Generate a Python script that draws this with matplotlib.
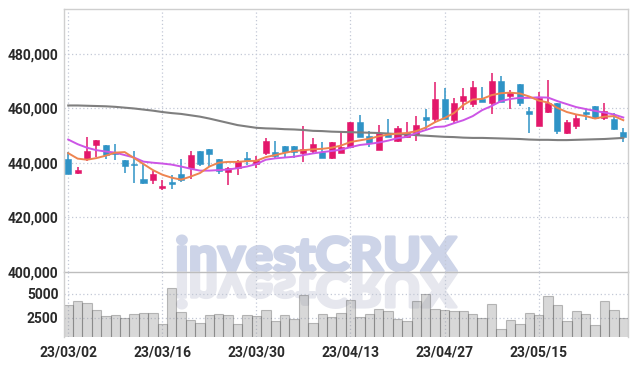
import matplotlib
matplotlib.use("Agg")
import matplotlib.pyplot as plt
import numpy as np
from matplotlib.textpath import TextPath
from matplotlib.patches import PathPatch, Rectangle
from matplotlib.font_manager import FontProperties
from matplotlib.transforms import Affine2D, IdentityTransform

# trading days (index -> date)
dates = ['23/03/02', '23/03/03', '23/03/06', '23/03/07', '23/03/08', '23/03/09', '23/03/10',
         '23/03/13', '23/03/14', '23/03/15', '23/03/16', '23/03/17', '23/03/20', '23/03/21',
         '23/03/22', '23/03/23', '23/03/24', '23/03/27', '23/03/28', '23/03/29', '23/03/30',
         '23/03/31', '23/04/03', '23/04/04', '23/04/05', '23/04/06', '23/04/07', '23/04/10',
         '23/04/11', '23/04/12', '23/04/13', '23/04/14', '23/04/17', '23/04/18', '23/04/19',
         '23/04/20', '23/04/21', '23/04/24', '23/04/25', '23/04/26', '23/04/27', '23/04/28',
         '23/05/02', '23/05/03', '23/05/04', '23/05/08', '23/05/09', '23/05/10', '23/05/11',
         '23/05/12', '23/05/15', '23/05/16', '23/05/17', '23/05/18', '23/05/19', '23/05/22',
         '23/05/23', '23/05/24', '23/05/25', '23/05/26']

opens = [441400, 436500, 441300, 446700, 446600, 444000, 441000, 439500, 434100, 433900,
         430900, 433100, 435900, 438200, 444400, 445000, 441400, 436700, 438000, 442000,
         439800, 443700, 443900, 446200, 446200, 443700, 444500, 443900, 442000, 443800,
         445900, 455000, 449900, 444700, 450500, 448100, 449600, 450200, 456700, 456000,
         463500, 455900, 462800, 461500, 463500, 462100, 470100, 464700, 468900, 459100,
         453700, 458800, 461900, 451100, 453600, 458600, 461000, 456600, 456000, 451400]
highs = [443900, 438600, 449400, 448600, 446700, 446900, 441100, 444400, 439800, 437100,
         433700, 435500, 441400, 444300, 444400, 445000, 441400, 438600, 441000, 444100,
         442500, 449000, 447900, 446200, 446200, 453500, 449000, 447600, 447600, 451400,
         455000, 457600, 451900, 453900, 456100, 453700, 455000, 457400, 459700, 469800,
         467400, 463800, 467500, 470000, 467800, 472900, 471900, 466800, 468900, 460600,
         466100, 470400, 461900, 455700, 457600, 459700, 461000, 461900, 458200, 452700]
lows = [435800, 435800, 440600, 442300, 441600, 441200, 436500, 432500, 432200, 432400,
        430000, 430300, 433100, 434200, 439000, 438600, 435900, 431900, 435500, 439200,
        438000, 442900, 441700, 442000, 442000, 440400, 443500, 441700, 441300, 443500,
        445500, 449600, 445900, 444700, 449400, 447800, 449000, 448100, 452100, 454500,
        456000, 454500, 459400, 460600, 462200, 458000, 462200, 459700, 460900, 450900,
        453700, 458400, 450600, 450500, 452300, 455700, 456300, 455700, 452100, 447800]
closes = [435900, 437400, 444400, 448400, 442900, 443300, 439000, 439100, 432600, 436100,
          431600, 432200, 433700, 442900, 439800, 443300, 437000, 438200, 440700, 441000,
          441000, 448100, 442500, 444100, 444100, 445000, 446900, 442000, 447600, 445900,
          455000, 449600, 447400, 450900, 449600, 452900, 450900, 453900, 455700, 463500,
          456000, 461900, 464600, 467900, 462200, 470100, 462200, 465900, 462100, 457800,
          463900, 461900, 451700, 455100, 456600, 457800, 456600, 459100, 452400, 449600]

# moving average lines
ma_short = [443600, 441600, 441200, 441800, 442700, 443800, 444000, 441800, 439600, 437400,
            435700, 434600, 433900, 435000, 436300, 438700, 440100, 440400, 440400, 440700,
            440800, 442150, 442900, 443700, 444400, 444700, 445000, 445200, 445600, 446400,
            447700, 448300, 448900, 449800, 450400, 450800, 451000, 451700, 453000, 455000,
            456500, 458300, 461300, 463300, 463500, 464900, 465600, 465800, 465500, 464400,
            462900, 462200, 460200, 458700, 457800, 457200, 456300, 457000, 457200, 455700]
ma_mid = [448600, 446900, 445600, 444700, 444200, 443800, 442900, 442000, 440500, 440100,
          439800, 439400, 438700, 437900, 437200, 437200, 437400, 437600, 438100, 438700,
          439600, 441200, 441700, 442000, 442300, 442900, 443500, 444000, 444400, 444900,
          445800, 446600, 447000, 447500, 448200, 449100, 449600, 451000, 452100, 453200,
          453400, 454600, 455700, 457200, 459400, 460900, 462700, 463500, 463900, 463900,
          464100, 464000, 462700, 461600, 460500, 459800, 459100, 458500, 457800, 456700]
ma_long = [461100, 461100, 461000, 460900, 460800, 460600, 460300, 460000, 459600, 459200,
           458700, 458300, 458000, 457500, 457000, 456300, 455500, 454700, 453900, 453400,
           452900, 452700, 452600, 452400, 452300, 452100, 451800, 451700, 451500, 451400,
           451300, 451200, 451100, 451000, 450800, 450600, 450500, 450200, 450000, 449800,
           449600, 449500, 449300, 449200, 449200, 449100, 449000, 448900, 448800, 448600,
           448500, 448500, 448400, 448400, 448500, 448600, 448700, 448800, 449000, 449200]

volumes = [3780, 4200, 4060, 3330, 2640, 2740, 2430, 2920, 3020, 3020,
           1800, 5550, 3130, 2220, 1980, 2740, 2840, 2740, 1880, 2740,
           2640, 3260, 2120, 2740, 2320, 4820, 1980, 2840, 2560, 3020,
           4380, 2560, 2920, 3440, 3160, 2400, 2150, 4200, 5000, 3370,
           3260, 3160, 3160, 2840, 2460, 3960, 1350, 2220, 1800, 3020,
           2810, 4720, 3780, 2120, 3160, 2920, 1700, 4230, 3330, 2500]

price_ticks = [400000, 420000, 440000, 460000, 480000]
vol_ticks = [2500, 5000]

UP = '#e3176b'
DOWN = '#2f93c6'
GRID = '#c3c8d6'
TXT = '#2a2a2a'

plt.rcParams['font.family'] = ['Roboto', 'DejaVu Sans']

fig = plt.figure(figsize=(6.38, 3.66), dpi=100)
ax = fig.add_axes([64 / 638, 1 - 272 / 366, 564 / 638, 263 / 366])
axv = fig.add_axes([64 / 638, 1 - 337 / 366, 564 / 638, 65 / 366], sharex=ax)
ax.set_facecolor('none')
axv.set_facecolor('none')

x = np.arange(len(dates))
tick_idx = list(range(0, len(dates), 10))

# grid
for a in (ax, axv):
    for t in tick_idx:
        a.axvline(t, color=GRID, lw=0.9, ls=(0, (1, 2)), zorder=0)
for p in price_ticks[1:]:
    ax.axhline(p, color=GRID, lw=0.9, ls=(0, (1, 2)), zorder=0)
for v in vol_ticks:
    axv.axhline(v, color=GRID, lw=0.9, ls=(0, (1, 2)), zorder=0)

# candles
w = 0.64
for i in range(len(dates)):
    o, h, l, c = opens[i], highs[i], lows[i], closes[i]
    col = UP if c >= o else DOWN
    ax.plot([i, i], [l, h], color=col, lw=1.1, zorder=3, solid_capstyle='butt')
    lo, hi = min(o, c), max(o, c)
    ax.add_patch(Rectangle((i - w / 2, lo), w, max(hi - lo, 250), facecolor=col,
                           edgecolor=col, lw=0.4, zorder=4))

ax.plot(x, ma_long, color='#7f7f7f', lw=1.5, zorder=5)
ax.plot(x, ma_mid, color='#cc55e6', lw=1.4, zorder=5)
ax.plot(x, ma_short, color='#ee8450', lw=1.4, zorder=6)

ax.set_xlim(-0.45, 59.5)
ax.set_ylim(400000, 496500)
ax.set_yticks(price_ticks)
ax.set_yticklabels([f"{p:,}" for p in price_ticks])

# volume (semi-transparent so the watermark reflection shows through)
axv.bar(x, volumes, width=1.0, bottom=0, color=(0.59, 0.59, 0.59, 0.37),
        edgecolor=(0.3, 0.3, 0.3, 0.35), lw=0.8, zorder=2)
axv.set_ylim(480, 7250)
axv.set_yticks(vol_ticks)
axv.set_yticklabels([str(v) for v in vol_ticks])
axv.set_xticks(tick_idx)
axv.set_xticklabels([dates[t] for t in tick_idx])

for a in (ax, axv):
    a.tick_params(length=0, labelsize=10, colors=TXT, pad=4)
    for s in a.spines.values():
        s.set_color('#cfcfcf')
        s.set_linewidth(1.0)
ax.tick_params(axis='x', labelbottom=False)
ax.spines['bottom'].set_color('#bdbdbd')
axv.spines['top'].set_visible(False)
axv.spines['bottom'].set_visible(False)
axv.tick_params(axis='x', pad=6)
for lab in ax.get_yticklabels() + axv.get_yticklabels() + axv.get_xticklabels():
    lab.set_fontweight('bold')

# watermark with its reflection, both behind the plot content
tp = TextPath((0, 0), "investCRUX", size=1,
              prop=FontProperties(family=['Lato', 'DejaVu Sans'], weight='black'))
ext = tp.get_extents()
sx = 279 / ext.width
sy = 35 / ext.y1
base = 366 - 271
tr = Affine2D().translate(-ext.x0, 0).scale(sx, sy).translate(177.5, base)
fig.patches.append(PathPatch(tr.transform_path(tp), facecolor='#cdd4e8', edgecolor='#cdd4e8',
                             lw=2.2, joinstyle='round', transform=IdentityTransform(), zorder=-1))
trr = Affine2D().translate(-ext.x0, 0).scale(sx, -sy).translate(177.5, base - 2)
fig.patches.append(PathPatch(trr.transform_path(tp), facecolor='#e6e7ee', edgecolor='#e6e7ee',
                             lw=2.2, joinstyle='round', transform=IdentityTransform(), zorder=-1))

fig.savefig('out.png', dpi=100, facecolor='white')
